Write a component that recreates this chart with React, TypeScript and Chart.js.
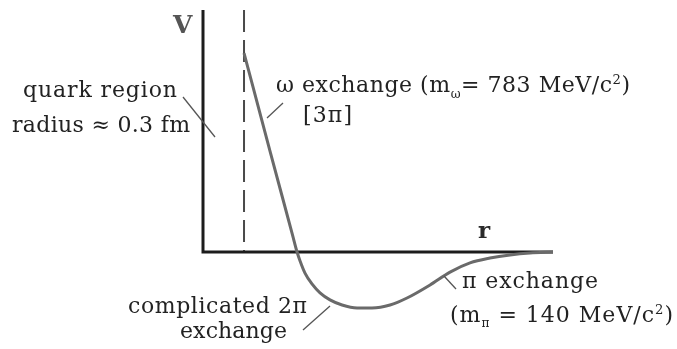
import React, { useEffect, useRef } from "react";
import { Chart, registerables } from "chart.js";

Chart.register(...registerables);

// r in fm, V in arbitrary units
const rValues = [0.3, 0.494, 0.655, 0.688, 0.71, 0.746, 0.797, 0.856, 0.929, 1.017, 1.127, 1.236, 1.368, 1.492, 1.661, 1.807, 1.953, 2.099, 2.246, 2.392, 2.56];
const vValues = [82.2, 40.9, 7.0, 0, -3.7, -8.7, -13.2, -16.9, -19.8, -21.9, -23.1, -23.1, -21.9, -19.0, -13.6, -8.3, -4.5, -2.5, -1.2, -0.4, 0];
const quarkRadius = 0.3;
const rMax = 2.56;
const vMax = 100;
const vMin = -30;

type Run = { t: string; s?: number; dy?: number };
type Label = { runs: Run[]; x: number; y: number; size: number; w?: number; bold?: boolean; color?: string };

const FONT = '"DejaVu Serif", serif';

const labels: Label[] = [
  { runs: [{ t: "V" }], x: 173, y: 33, size: 25, bold: true, color: "#555" },
  { runs: [{ t: "r" }], x: 478, y: 238, size: 23, bold: true, color: "#2a2a2a" },
  { runs: [{ t: "quark region" }], x: 23, y: 97, size: 22, w: 154 },
  { runs: [{ t: "radius \u2248 0.3 fm" }], x: 12, y: 132, size: 22, w: 178 },
  {
    runs: [
      { t: "\u03c9 exchange (m" },
      { t: "\u03c9", s: 0.55, dy: 6 },
      { t: "= 783 MeV/c" },
      { t: "2", s: 0.6, dy: -8 },
      { t: ")" },
    ],
    x: 276, y: 92, size: 22, w: 354,
  },
  { runs: [{ t: "[3\u03c0]" }], x: 303, y: 122, size: 22, w: 49 },
  { runs: [{ t: "\u03c0 exchange" }], x: 462, y: 288, size: 22, w: 136 },
  {
    runs: [
      { t: "(m" },
      { t: "\u03c0", s: 0.55, dy: 5 },
      { t: " = 140 MeV/c" },
      { t: "2", s: 0.6, dy: -8 },
      { t: ")" },
    ],
    x: 450, y: 322, size: 22, w: 223,
  },
  { runs: [{ t: "complicated 2\u03c0" }], x: 128, y: 313, size: 22, w: 179 },
  { runs: [{ t: "exchange" }], x: 180, y: 338, size: 22, w: 107 },
];

const leaders: number[][] = [
  [183, 97, 215, 137],
  [267, 118, 283, 103],
  [444, 276, 456, 289],
  [303, 330, 330, 306],
];

const annotationPlugin = {
  id: "annotations",
  afterDatasetsDraw(chart: any) {
    const ctx: CanvasRenderingContext2D = chart.ctx;
    ctx.save();
    ctx.strokeStyle = "#555";
    ctx.lineWidth = 1.3;
    leaders.forEach(([x1, y1, x2, y2]) => {
      ctx.beginPath();
      ctx.moveTo(x1, y1);
      ctx.lineTo(x2, y2);
      ctx.stroke();
    });
    ctx.textBaseline = "alphabetic";
    labels.forEach((lb) => {
      const weight = lb.bold ? "bold " : "";
      ctx.fillStyle = lb.color || "#222";
      const chars: { c: string; size: number; dy: number }[] = [];
      lb.runs.forEach((r) => {
        Array.from(r.t).forEach((c) => chars.push({ c, size: lb.size * (r.s || 1), dy: r.dy || 0 }));
      });
      let natural = 0;
      const widths = chars.map((ch) => {
        ctx.font = `${weight}${ch.size}px ${FONT}`;
        const w = ctx.measureText(ch.c).width;
        natural += w;
        return w;
      });
      const sp = lb.w && chars.length > 1 ? (lb.w - natural) / (chars.length - 1) : 0;
      let x = lb.x;
      chars.forEach((ch, i) => {
        ctx.font = `${weight}${ch.size}px ${FONT}`;
        ctx.fillText(ch.c, x, lb.y + ch.dy);
        x += widths[i] + sp;
      });
    });
    ctx.restore();
  },
};

export default function App() {
  const ref = useRef<HTMLCanvasElement>(null);
  useEffect(() => {
    if (!ref.current) return;
    const chart = new Chart(ref.current, {
      type: "scatter",
      data: {
        datasets: [
          {
            data: rValues.map((r, i) => ({ x: r, y: vValues[i] })),
            showLine: true,
            borderColor: "#6a6a6a",
            borderWidth: 3,
            pointRadius: 0,
            cubicInterpolationMode: "monotone",
            clip: false,
          } as any,
          {
            data: [
              { x: 0, y: vMax },
              { x: 0, y: 0 },
              { x: rMax, y: 0 },
            ],
            showLine: true,
            borderColor: "#1c1c1c",
            borderWidth: 3,
            pointRadius: 0,
            tension: 0,
            borderJoinStyle: "miter",
            clip: false,
          } as any,
          {
            data: [
              { x: quarkRadius, y: vMax },
              { x: quarkRadius, y: 0 },
            ],
            showLine: true,
            borderColor: "#4a4a4a",
            borderWidth: 2,
            borderDash: [22, 8],
            pointRadius: 0,
            clip: false,
          } as any,
        ],
      },
      options: {
        animation: false,
        responsive: false,
        events: [],
        layout: { padding: { left: 203, right: 124, top: 10, bottom: 24.4 } },
        plugins: { legend: { display: false }, tooltip: { enabled: false } },
        scales: {
          x: { type: "linear", min: 0, max: rMax, display: false },
          y: { type: "linear", min: vMin, max: vMax, display: false },
        },
      },
      plugins: [annotationPlugin],
    });
    return () => chart.destroy();
  }, []);
  return (
    <div style={{ position: "absolute", left: 0, top: 0, width: 677, height: 349, background: "#fff" }}>
      <canvas ref={ref} width={677} height={349} style={{ display: "block" }} />
    </div>
  );
}
